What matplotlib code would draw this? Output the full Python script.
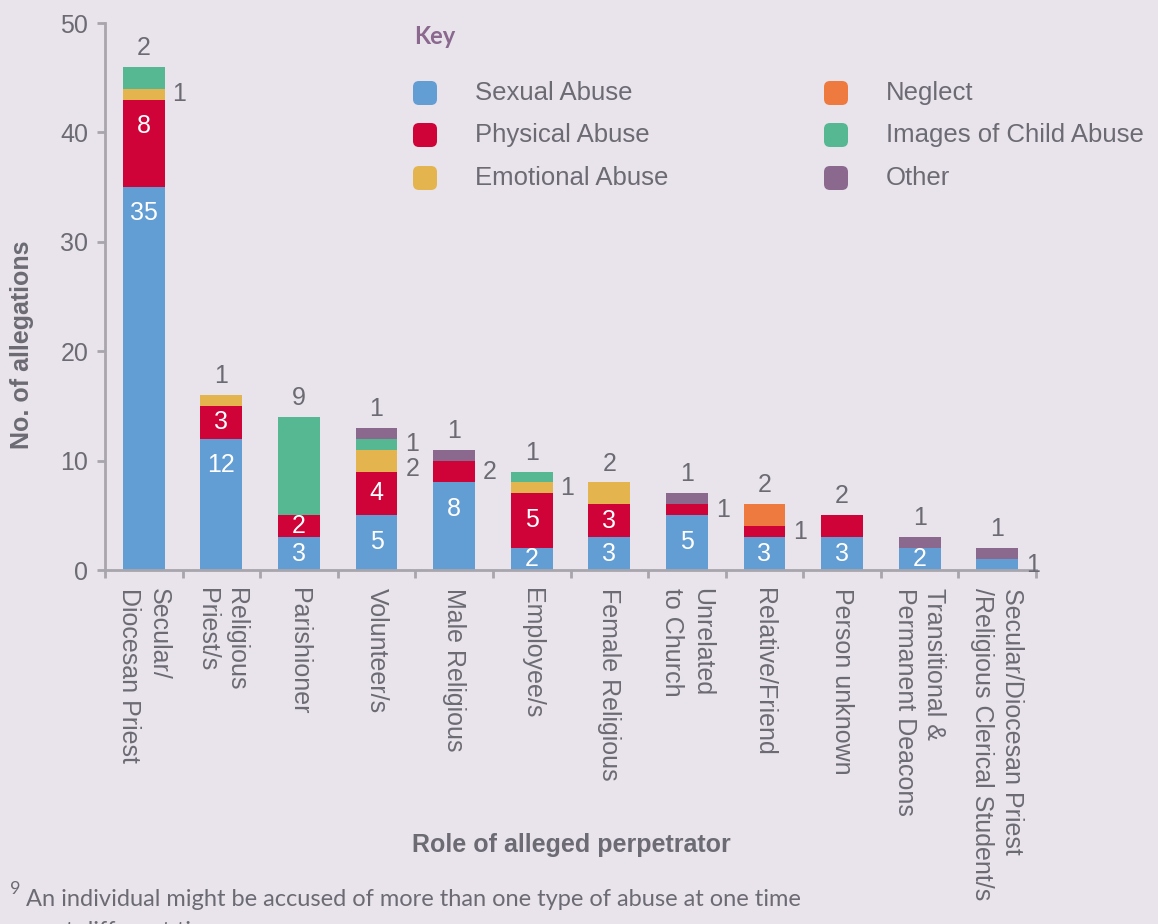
import matplotlib
matplotlib.use("Agg")
import matplotlib.pyplot as plt
from matplotlib.patches import FancyBboxPatch
from matplotlib.transforms import IdentityTransform
import numpy as np

plt.rcParams['font.family'] = ['Liberation Sans', 'DejaVu Sans']

# data
roles = ["Secular/\nDiocesan Priest", "Religious\nPriest/s", "Parishioner", "Volunteer/s",
         "Male Religious", "Employee/s", "Female Religious", "Unrelated\nto Church",
         "Relative/Friend", "Person unknown", "Transitional &\nPermanent Deacons",
         "Secular/Diocesan Priest\n/Religious Clerical Student/s"]
series = ["Sexual Abuse", "Physical Abuse", "Emotional Abuse", "Neglect",
          "Images of Child Abuse", "Other"]
sexual    = [35, 12, 3, 5, 8, 2, 3, 5, 3, 3, 2, 1]
physical  = [8, 3, 2, 4, 2, 5, 3, 1, 1, 2, 0, 0]
emotional = [1, 1, 0, 2, 0, 1, 2, 0, 0, 0, 0, 0]
neglect   = [0, 0, 0, 0, 0, 0, 0, 0, 2, 0, 0, 0]
images    = [2, 0, 9, 1, 0, 1, 0, 0, 0, 0, 0, 0]
other     = [0, 0, 0, 1, 1, 0, 0, 1, 0, 0, 1, 1]
values = [sexual, physical, emotional, neglect, images, other]

colors = ["#629dd3", "#cf0338", "#e4b54f", "#ef7a3f", "#55b892", "#8b688e"]
bg = "#e9e4ec"
txt = "#6c6b74"
axcol = "#a9a5ad"

# segments whose count is printed to the right of the bar (series index per bar)
right_labels = {0: [2], 3: [2, 4], 4: [1], 5: [2], 7: [1], 8: [1], 11: [0]}

fig = plt.figure(figsize=(11.58, 9.24), dpi=100, facecolor=bg)
ax = fig.add_axes([105/1158, 354/924, 931/1158, 547/924])
ax.set_facecolor(bg)

x = np.arange(len(roles))
bottom = np.zeros(len(roles))
for s, vals in enumerate(values):
    vals = np.array(vals, dtype=float)
    ax.bar(x, vals, 0.54, bottom=bottom, color=colors[s], linewidth=0)
    bottom += vals

for i in range(len(roles)):
    base = 0
    top_s = max(s for s in range(len(series)) if values[s][i] > 0)
    side = []
    for s in range(len(series)):
        v = values[s][i]
        if v == 0:
            continue
        seg_top = base + v
        if s == top_s:
            ax.annotate(str(v), (i, seg_top), xytext=(0, 5), textcoords="offset points",
                        ha="center", va="bottom", fontsize=18, color=txt)
        elif s in right_labels.get(i, []):
            side.append([base + v / 2, v])
        else:
            yc = seg_top - min(2.4, v / 2)
            ax.text(i, yc, str(v), ha="center", va="center", fontsize=18, color="white")
        base = seg_top
    # keep side labels of one bar from overlapping (top to bottom)
    side.sort(key=lambda p: -p[0])
    for k in range(1, len(side)):
        if side[k - 1][0] - side[k][0] < 2.3:
            side[k][0] = side[k - 1][0] - 2.3
    for yc, v in side:
        ax.text(i + 0.46, yc, str(v), ha="center", va="center", fontsize=18, color=txt)

ax.set_xlim(-0.5, 11.5)
ax.set_ylim(0, 50)
ax.set_yticks(range(0, 51, 10))
ax.set_xticks(np.arange(-0.5, 12, 1))
ax.set_xticklabels([])
ax.set_xticks(x, minor=True)
ax.set_xticklabels(roles, minor=True, rotation=270, fontsize=18, color=txt,
                   ha="center", va="top", linespacing=1.3, multialignment="left")
ax.tick_params(axis="x", which="minor", length=0, pad=13)
ax.tick_params(axis="x", which="major", length=6, width=2, color=axcol, direction="out")
ax.tick_params(axis="y", length=6, width=2, color=axcol, labelsize=18, labelcolor=txt, pad=6)
for sd in ["top", "right"]:
    ax.spines[sd].set_visible(False)
for sd in ["left", "bottom"]:
    ax.spines[sd].set_color(axcol)
    ax.spines[sd].set_linewidth(2)

fig.text(22/1158, 1 - 345/924, "No. of allegations", ha="center", va="center", rotation=90,
         fontsize=18, fontweight="bold", color=txt)
fig.text(571/1158, 1 - 845/924, "Role of alleged perpetrator", ha="center", va="center",
         fontsize=18, fontweight="bold", color=txt)

# key
fig.text(414/1158, 1 - 36/924, "Key", ha="left", va="center", fontsize=17,
         fontweight="bold", color="#8b688e", family=["Lato", "DejaVu Sans"])
col_x = [413, 824]
row_y = [93, 135, 178]
for s, name in enumerate(series):
    cx = col_x[s // 3]
    cy = row_y[s % 3]
    box = FancyBboxPatch((cx, 924 - cy - 12), 24, 24, boxstyle="round,pad=0,rounding_size=6",
                         facecolor=colors[s], edgecolor="none", transform=IdentityTransform())
    fig.patches.append(box)
    fig.text((cx + 62) / 1158, 1 - cy / 924, name, ha="left", va="center",
             fontsize=18.5, color=txt)

# footnote
fig.text(10/1158, 1 - 889/924, "9", ha="left", va="center", fontsize=13, color=txt,
         family=["Lato", "DejaVu Sans"])
fig.text(26/1158, 1 - 899/924, "An individual might be accused of more than one type of abuse at one time",
         ha="left", va="center", fontsize=17, color=txt, family=["Lato", "DejaVu Sans"])
fig.text(26/1158, 1 - 932/924, "or at different times", ha="left", va="center",
         fontsize=17, color=txt, family=["Lato", "DejaVu Sans"])

fig.savefig("out.png", dpi=100, facecolor=bg)
